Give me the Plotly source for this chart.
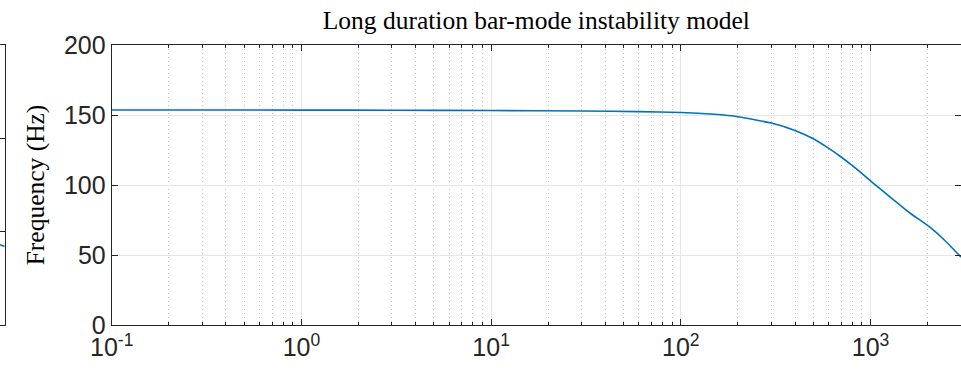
import numpy as np
import plotly.graph_objects as go

# Bar-mode frequency vs. time (log axis)
time_s = [0.1, 0.3, 1, 3, 10, 30, 60, 100, 150, 200, 300, 400, 500, 600,
          700, 800, 900, 1036, 1318, 1614, 2041, 2421, 3000]
freq_hz = [153.6, 153.6, 153.5, 153.4, 153.2, 152.9, 152.4, 151.8, 150.5,
           148.8, 144.3, 139.0, 133.0, 126.3, 120.0, 114.0, 108.3, 101.2,
           89.6, 80.0, 70.2, 61.4, 48.5]

# Neighbouring panel (only its right edge is in view)
left_x = [0.0, 1.0]
left_y = [0.86, 0.84]

y_ticks = [0, 50, 100, 150, 200]
x_ticks = [0.1, 1, 10, 100, 1000]
x_tick_text = ["10<sup>-1</sup>", "10<sup>0</sup>", "10<sup>1</sup>",
               "10<sup>2</sup>", "10<sup>3</sup>"]
# 2..9 within each decade, up to the end of the axis
x_minor_ticks = [m * d for d in x_ticks for m in range(2, 10) if m * d <= 3000]

BLUE = "#0072BD"
AXIS = "#262626"
TICK_FONT = dict(family="Liberation Sans, Arial, sans-serif", size=25, color=AXIS)
SERIF = dict(family="Liberation Serif, Times New Roman, serif", size=25.5, color="#000000")

X0 = 111.7 / 961

fig = go.Figure()

fig.add_trace(go.Scatter(
    x=time_s, y=freq_hz, mode="lines",
    line=dict(color=BLUE, width=1.6, shape="spline", smoothing=0.4),
    xaxis="x", yaxis="y", showlegend=False, hoverinfo="skip",
))

fig.add_trace(go.Scatter(
    x=left_x, y=left_y, mode="lines",
    line=dict(color=BLUE, width=1.6),
    xaxis="x2", yaxis="y2", showlegend=False, hoverinfo="skip",
))

fig.update_layout(
    template="none",
    width=961, height=370,
    margin=dict(l=0, r=0, t=45, b=45, pad=0),
    paper_bgcolor="white", plot_bgcolor="white",
    title=dict(text="Long duration bar-mode instability model",
               font=SERIF, x=(X0 + 1) / 2, xanchor="center",
               y=1 - 20 / 370, yanchor="middle"),
    xaxis=dict(
        type="log", range=[-1, np.log10(3000)], domain=[X0, 1],
        anchor="y", automargin=False,
        tickmode="array", tickvals=x_ticks, ticktext=x_tick_text,
        ticks="inside", ticklen=6, tickcolor=AXIS, tickwidth=1,
        showline=True, linecolor=AXIS, linewidth=1, mirror="allticks",
        showgrid=True, gridcolor="#e6e6e6", gridwidth=1,
        minor=dict(tickmode="array", tickvals=x_minor_ticks,
                   ticks="inside", ticklen=3, tickcolor=AXIS, tickwidth=1,
                   showgrid=True, gridcolor="#c4c4c4", griddash="1px,3px",
                   gridwidth=1),
        tickfont=TICK_FONT, zeroline=False,
    ),
    yaxis=dict(
        range=[0, 200], domain=[0, 1], anchor="x", automargin=False,
        tickmode="array", tickvals=y_ticks,
        ticks="inside", ticklen=6, tickcolor=AXIS, tickwidth=1,
        showline=True, linecolor=AXIS, linewidth=1, mirror="allticks",
        showgrid=True, gridcolor="#e6e6e6", gridwidth=1,
        tickfont=TICK_FONT, zeroline=False,
        title=dict(text="Frequency (Hz)", font=SERIF, standoff=12),
    ),
    xaxis2=dict(
        domain=[0, 0.0049], range=[0, 1], anchor="y2", automargin=False,
        showline=True, linecolor=AXIS, linewidth=1, mirror=True,
        showticklabels=False, ticks="", showgrid=False, zeroline=False,
    ),
    yaxis2=dict(
        domain=[0, 1], range=[0, 3], anchor="x2", side="right",
        automargin=False,
        tickmode="array", tickvals=[1, 2], ticks="inside", ticklen=5,
        tickcolor=AXIS,
        showline=True, linecolor=AXIS, linewidth=1, mirror=False,
        showticklabels=False, showgrid=False, zeroline=False,
    ),
)

fig.write_html("out.html")
